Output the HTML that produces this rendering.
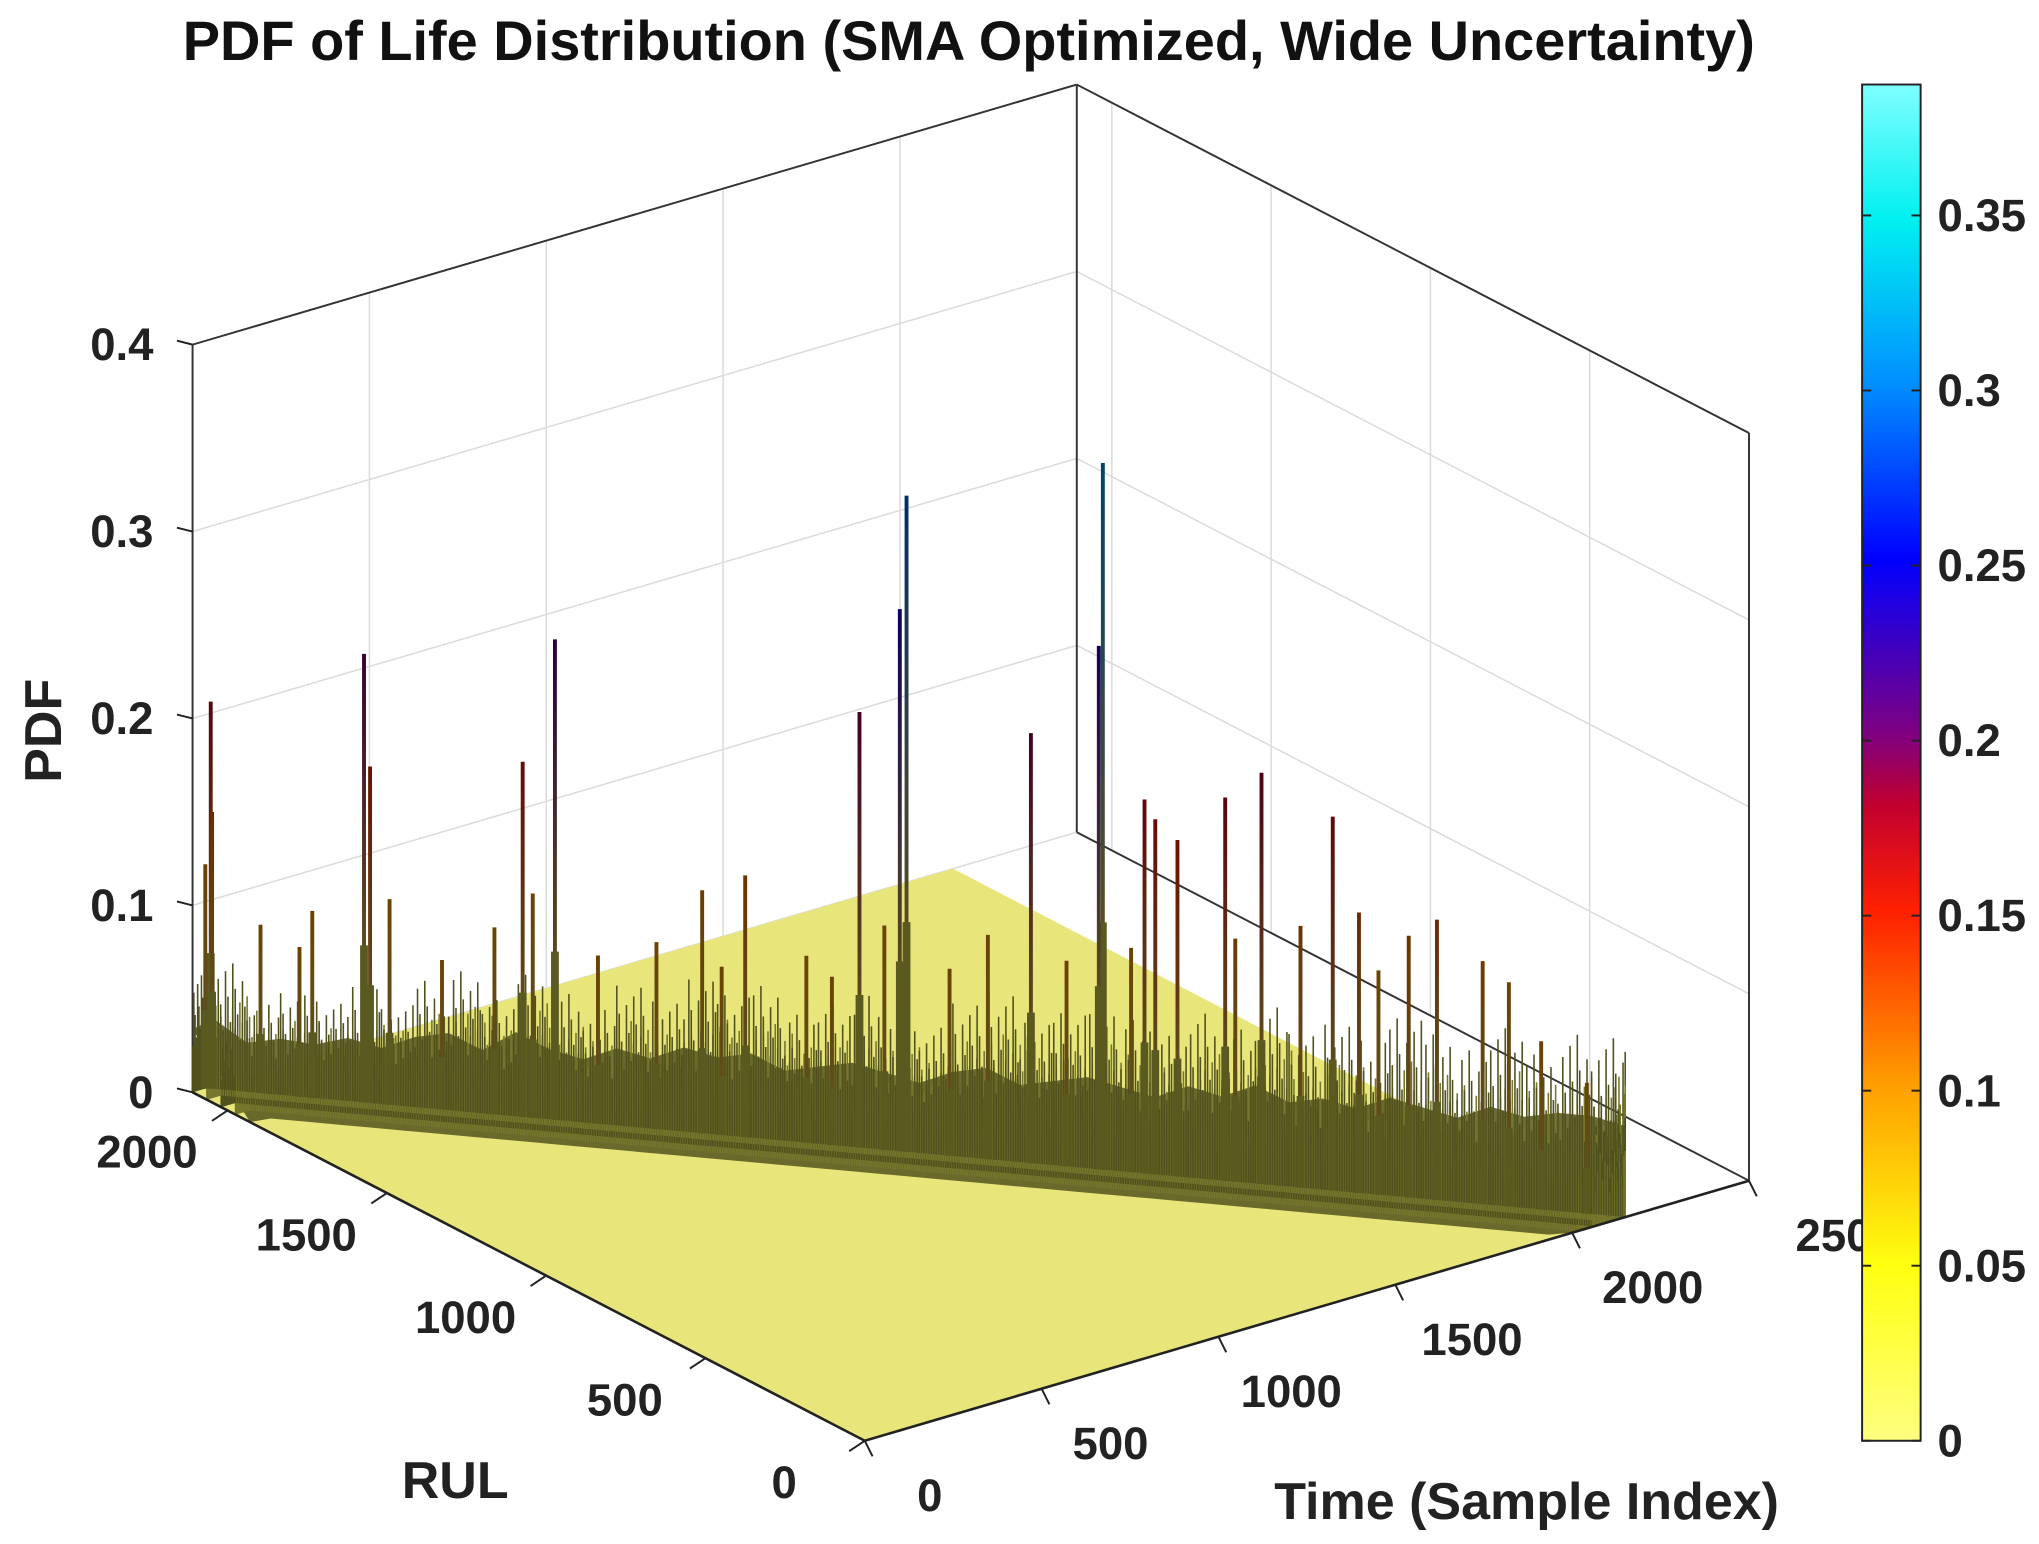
<!DOCTYPE html>
<html><head><meta charset="utf-8"><style>
html,body{margin:0;padding:0;background:#fff;}
svg{display:block;font-family:"Liberation Sans",Arial,sans-serif;font-weight:bold;}
</style></head><body>
<svg id="chart" width="2039" height="1544" viewBox="0 0 1568 1187.4" xmlns="http://www.w3.org/2000/svg">
<defs>
<linearGradient id="cbar" x1="0" y1="1" x2="0" y2="0">
<stop offset="0" stop-color="#ffff80"/>
<stop offset="0.13" stop-color="#ffff10"/>
<stop offset="0.26" stop-color="#ffa000"/>
<stop offset="0.39" stop-color="#ff2000"/>
<stop offset="0.47" stop-color="#c00030"/>
<stop offset="0.52" stop-color="#800080"/>
<stop offset="0.65" stop-color="#0000ff"/>
<stop offset="0.78" stop-color="#0090ff"/>
<stop offset="0.9" stop-color="#00f0f0"/>
<stop offset="1" stop-color="#80ffff"/>
</linearGradient>
</defs>
<text x="745" y="46" font-size="43" text-anchor="middle" fill="#111">PDF of Life Distribution (SMA Optimized, Wide Uncertainty)</text>
<g id="grid"></g>
<g id="floor"></g>
<g id="band"></g>
<g id="spikes"></g>
<g id="axes"></g>
<text transform="translate(47,562) rotate(-90)" font-size="40" text-anchor="middle" fill="#222">PDF</text>
<text x="350" y="1152" font-size="40" text-anchor="middle" fill="#222">RUL</text>
<text x="1174" y="1168" font-size="40" text-anchor="middle" fill="#222">Time (Sample Index)</text>
<g id="cb"></g>
</svg>
<script>
const zTicks=[0,0.1,0.2,0.3,0.4];
const zTickLabels=["0","0.1","0.2","0.3","0.4"];
const timeTicks=[0,500,1000,1500,2000,2500];
const timeTickLabels=["0","500","1000","1500","2000","250"];
const rulTicks=[0,500,1000,1500,2000];
const rulTickLabels=["0","500","1000","1500","2000"];
const cbTicks=[0,0.05,0.1,0.15,0.2,0.25,0.3,0.35];
const cbTickLabels=["0","0.05","0.1","0.15","0.2","0.25","0.3","0.35"];
const spikeTimes=[46,48,36,274,283,312,510,558,525,468,777,841,806,709,1011,1081,1071,1048,970,1266,1202,1319,1373,1367,1435,1451,1484,1415,1555,1609,1667,1715,1754,1828,1870,1938,1977,2025,2093,120,178,197,390,622,932,1145,1570,1783];
const spikeHeights=[0.207,0.148,0.12,0.24,0.18,0.11,0.19,0.257,0.12,0.1,0.13,0.14,0.09,0.1,0.233,0.351,0.29,0.12,0.09,0.23,0.12,0.11,0.378,0.28,0.2,0.19,0.18,0.12,0.205,0.22,0.14,0.2,0.15,0.14,0.15,0.13,0.12,0.09,0.07,0.09,0.08,0.1,0.08,0.09,0.1,0.1,0.13,0.12];
const fuzzTimes=[0,50,100,150,200,250,300,350,400,450,500,550,600,650,700,750,800,850,900,950,1000,1050,1100,1150,1200,1250,1300,1350,1400,1450,1500,1550,1600,1650,1700,1750,1800,1850,1900,1950,2000,2050,2100,2150];
const fuzzHeights=[0.045,0.05,0.035,0.04,0.038,0.045,0.04,0.05,0.055,0.045,0.06,0.05,0.045,0.055,0.05,0.06,0.055,0.06,0.05,0.055,0.06,0.055,0.05,0.06,0.065,0.055,0.06,0.065,0.06,0.055,0.065,0.06,0.07,0.06,0.065,0.06,0.07,0.065,0.06,0.07,0.065,0.07,0.07,0.065];
const tMax=2500, rMax=2110, zMax=0.4, tSurf=2150, ridgeT0=2150;
const cbMax=0.3874;
const NS="http://www.w3.org/2000/svg";
function P(t,r,z){return [665+t*0.272-r*0.245, 1108-t*0.08-r*0.127-z*1437.5];}
function el(tag,attrs,parent){const e=document.createElementNS(NS,tag);for(const k in attrs)e.setAttribute(k,attrs[k]);parent.appendChild(e);return e;}
function line(a,b,st,w,parent){return el('line',{x1:a[0],y1:a[1],x2:b[0],y2:b[1],stroke:st,'stroke-width':w},parent);}
const G=document.getElementById('grid'),F=document.getElementById('floor'),B=document.getElementById('band'),S=document.getElementById('spikes'),A=document.getElementById('axes'),CB=document.getElementById('cb');
const gc="#dcdcdc";
for(const t of timeTicks){const l=line(P(t,rMax,0),P(t,rMax,zMax),gc,1.2,G);
 
 }
for(const z of zTicks){const l=line(P(0,rMax,z),P(tMax,rMax,z),gc,1.2,G);
 
 
 const l2=line(P(tMax,rMax,z),P(tMax,0,z),gc,1.2,G);
 
 }
for(const r of rulTicks){const l=line(P(tMax,r,0),P(tMax,r,zMax),gc,1.2,G);
 
 }
const bc="#333";
[[P(0,rMax,zMax),P(tMax,rMax,zMax)],[P(tMax,rMax,zMax),P(tMax,0,zMax)],[P(tMax,rMax,0),P(tMax,rMax,zMax)],[P(tMax,0,0),P(tMax,0,zMax)],[P(0,rMax,0),P(0,rMax,zMax)],[P(tMax,rMax,0),P(tMax,0,0)]].forEach(s=>{const l=line(s[0],s[1],bc,1.5,G);
 
 });
const fl=[P(0,0,0),P(tSurf,0,0),P(tSurf,rMax,0),P(0,rMax,0)];
const fp=el('polygon',{points:fl.map(p=>p.join(',')).join(' '),fill:'#e8e67a'},F);


function ridgeR(t){return Math.max(0,Math.min(rMax,ridgeT0-t));}
const ridgeTop=[],ridgeBot=[];
for(let i=0;i<fuzzTimes.length;i++){const t=fuzzTimes[i];ridgeTop.push(P(t,ridgeR(t),fuzzHeights[i]*0.75));}
for(let i=fuzzTimes.length-1;i>=0;i--){const t=fuzzTimes[i];ridgeBot.push(P(t,Math.max(0,ridgeR(t)-180),0));}
const bp=el('polygon',{points:ridgeTop.concat(ridgeBot).map(p=>p.join(',')).join(' '),fill:'#5b5b22',opacity:0.9},B);


for(let i=0;i<fuzzTimes.length;i++){const t=fuzzTimes[i],h=fuzzHeights[i];
 for(let k=0;k<14;k++){const tt=t+k*3.6;if(tt>tSurf)break;const hh=h*(0.55+0.9*((k*7+i*3)%10)/10);
  for(let d=0;d<4;d++){const r=Math.max(0,ridgeR(tt)-d*45);
   const l=line(P(tt,r,0),P(tt,r,hh*(1-d*0.2)),d%2?'#76762c':'#50501c',1.2,B);
   
   }}}
const cmS=[[0,[255,255,128]],[0.05,[255,255,16]],[0.1,[255,160,0]],[0.15,[255,32,0]],[0.18,[192,0,48]],[0.2,[128,0,128]],[0.25,[0,0,255]],[0.3,[0,144,255]],[0.35,[0,240,240]],[0.3874,[128,255,255]]];
function cmap(v){for(let i=1;i<cmS.length;i++){if(v<=cmS[i][0]){const a=cmS[i-1],b=cmS[i],f=(v-a[0])/(b[0]-a[0]);return a[1].map((c,j)=>c+(b[1][j]-c)*f);}}return cmS[cmS.length-1][1];}
const defs=document.querySelector('defs');
for(let i=0;i<spikeTimes.length;i++){const t=spikeTimes[i],h=spikeHeights[i],r=ridgeR(t);
 const a=P(t,r,0),b=P(t,r,h);const c=cmap(Math.max(0.1,h*0.82)).map(x=>Math.round(x*0.42));
 const g=el('linearGradient',{id:'sg'+i,gradientUnits:'userSpaceOnUse',x1:0,y1:a[1],x2:0,y2:b[1]},defs);
 el('stop',{offset:0,'stop-color':'#55551e'},g);el('stop',{offset:0.3,'stop-color':'#5e4e1c'},g);el('stop',{offset:1,'stop-color':`rgb(${c[0]},${c[1]},${c[2]})`},g);
 const l=line(a,b,'url(#sg'+i+')',3,S);
 
 
 const w=line(a,P(t,r,h*0.35),'#5a5a20',6,S);
 
 }
const ax1=line(P(0,rMax,0),P(0,0,0),'#222',2,A);


const ax2=line(P(0,0,0),P(tMax,0,0),'#222',2,A);


zTicks.forEach((z,i)=>{const p=P(0,rMax,z);line(p,[p[0]-12,p[1]-3],'#222',1.5,A);
 const tx=el('text',{x:118,y:p[1]+12,'font-size':35,'text-anchor':'end',fill:'#222'},A);tx.textContent=zTickLabels[i];
 
 });
rulTicks.forEach((r,i)=>{const p=P(0,r,0);line(p,[p[0]-12,p[1]+8],'#222',1.5,A);
 const tx=el('text',{x:p[0]-62,y:p[1]+44,'font-size':35,'text-anchor':'middle',fill:'#222'},A);tx.textContent=rulTickLabels[i];
 
 });
timeTicks.forEach((t,i)=>{const p=P(t,0,0);line(p,[p[0]+6,p[1]+12],'#222',1.5,A);
 const tx=el('text',{x:p[0]+50+i*3,y:p[1]+54,'font-size':35,'text-anchor':'middle',fill:'#222'},A);tx.textContent=timeTickLabels[i];
 
 });
const cbX=1432,cbW=45,cbTop=65,cbBot=1108;
function cy(v){return cbBot-(v/cbMax)*(cbBot-cbTop);}
const rect=el('rect',{x:cbX,y:cbTop,width:cbW,height:cbBot-cbTop,fill:'url(#cbar)',stroke:'#222','stroke-width':1.5},CB);


cbTicks.forEach((v,i)=>{const y=cy(v);line([cbX+cbW-7,y],[cbX+cbW,y],'#222',1.5,CB);line([cbX,y],[cbX+7,y],'#222',1.5,CB);
 const tx=el('text',{x:1490,y:y+12,'font-size':35,fill:'#222'},CB);tx.textContent=cbTickLabels[i];
 
 });
</script>
</body></html>
